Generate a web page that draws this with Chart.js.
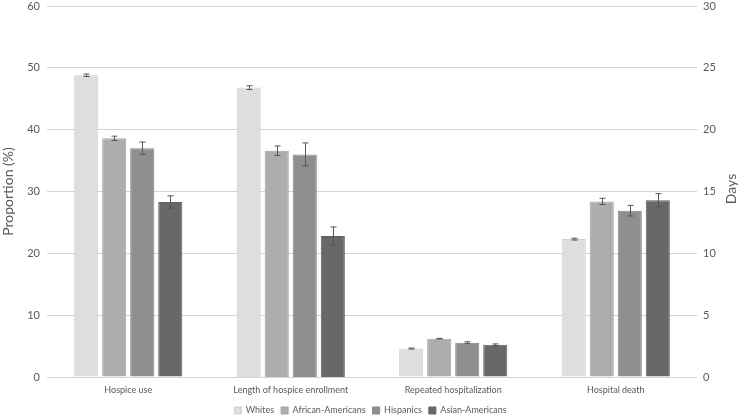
<!DOCTYPE html>
<html>
<head>
<meta charset="utf-8">
<script src="https://cdn.jsdelivr.net/npm/chart.js@4.4.1/dist/chart.umd.min.js"></script>
<style>
  html, body { margin: 0; padding: 0; background: #fff; }
  #wrap { width: 741px; height: 416px; position: relative; }
</style>
</head>
<body>
<div id="wrap"><canvas id="chart"></canvas></div>
<script>
const CATEGORIES = ['Hospice use', 'Length of hospice enrollment', 'Repeated hospitalization', 'Hospital death'];
// index 1 (length of enrollment) is in days, the rest are percentages
const DAYS_INDEX = 1;

const SERIES = [
  { label: 'Whites',            color: '#dedede', border: '#cfcfcf' },
  { label: 'African-Americans', color: '#adadad', border: '#a3a3a3' },
  { label: 'Hispanics',         color: '#8f8f8f', border: '#878787' },
  { label: 'Asian-Americans',   color: '#686868', border: '#606060' },
];

const whites    = [48.8, 23.4, 4.6, 22.3];
const africanAm = [38.6, 18.3, 6.2, 28.4];
const hispanics = [37.0, 18.0, 5.55, 26.9];
const asianAm   = [28.3, 11.4, 5.2, 28.6];

const whitesErr    = [0.2, 0.15, 0.08, 0.15];
const africanAmErr = [0.35, 0.38, 0.05, 0.5];
const hispanicsErr = [1.0, 0.93, 0.15, 0.86];
const asianAmErr   = [1.0, 0.73, 0.15, 1.05];

const pctTicks  = [0, 10, 20, 30, 40, 50, 60];
const daysTicks = [0, 5, 10, 15, 20, 25, 30];

const VALUES = [whites, africanAm, hispanics, asianAm];
const ERRORS = [whitesErr, africanAmErr, hispanicsErr, asianAmErr];

const FONT = 'Lato, "Open Sans", sans-serif';
const TEXT = '#595959';

function pick(arr, days) {
  return arr.map((v, i) => (i === DAYS_INDEX) === days ? v : null);
}

const datasets = [];
[false, true].forEach(days => {
  SERIES.forEach((s, k) => {
    datasets.push({
      label: s.label,
      data: pick(VALUES[k], days),
      errors: pick(ERRORS[k], days),
      yAxisID: days ? 'y2' : 'y',
      backgroundColor: s.color,
      borderColor: s.border,
      borderWidth: 1,
      categoryPercentage: 0.69,
      barPercentage: 0.86,
      skipNull: true,
    });
  });
});

const errorBars = {
  id: 'errorBars',
  afterDatasetsDraw(chart) {
    const ctx = chart.ctx;
    ctx.save();
    ctx.strokeStyle = '#555';
    ctx.lineWidth = 1;
    chart.data.datasets.forEach((ds, di) => {
      const meta = chart.getDatasetMeta(di);
      if (meta.hidden) return;
      const scale = chart.scales[ds.yAxisID];
      meta.data.forEach((bar, i) => {
        const v = ds.data[i], e = ds.errors[i];
        if (v == null || e == null) return;
        const x = Math.round(bar.x) + 0.5;
        const yt = scale.getPixelForValue(v + e);
        const yb = scale.getPixelForValue(v - e);
        ctx.beginPath();
        ctx.moveTo(x, yt); ctx.lineTo(x, yb);
        ctx.moveTo(x - 3, yt); ctx.lineTo(x + 3, yt);
        ctx.moveTo(x - 3, yb); ctx.lineTo(x + 3, yb);
        ctx.stroke();
      });
    });
    ctx.restore();
  }
};

const daysTitle = {
  id: 'daysTitle',
  afterDraw(chart) {
    const ctx = chart.ctx;
    ctx.save();
    ctx.fillStyle = TEXT;
    ctx.font = '14px ' + FONT;
    ctx.textAlign = 'center';
    ctx.textBaseline = 'middle';
    ctx.translate(731, 189);
    ctx.rotate(-Math.PI / 2);
    ctx.fillText('Days', 0, 0);
    ctx.restore();
  }
};

// keep the legend strip short so the plot reaches down like the original
const legendHeight = {
  id: 'legendHeight',
  afterInit(chart) {
    const lg = chart.legend;
    if (!lg) return;
    const fit = lg.fit.bind(lg);
    lg.fit = function () { fit(); this.height = 17; };
  }
};

function fitVertical(width) {
  return s => { s.width = width; s.paddingTop = 6; s.paddingBottom = 0; };
}

new Chart(document.getElementById('chart').getContext('2d'), {
  type: 'bar',
  data: { labels: CATEGORIES, datasets },
  options: {
    responsive: true,
    maintainAspectRatio: false,
    animation: false,
    layout: { padding: 0 },
    plugins: {
      legend: {
        position: 'bottom',
        labels: {
          filter: item => item.datasetIndex < SERIES.length,
          boxWidth: 7, boxHeight: 7,
          padding: 7,
          color: TEXT,
          font: { family: FONT, size: 9 },
        }
      },
      tooltip: { enabled: false },
    },
    scales: {
      x: {
        grid: { display: false, drawTicks: false },
        border: { display: false },
        ticks: { color: TEXT, font: { family: FONT, size: 9 }, padding: 8, maxRotation: 0 },
        afterFit: s => { s.height = 22; },
      },
      y: {
        position: 'left',
        min: 0, max: 60,
        afterBuildTicks: s => { s.ticks = pctTicks.map(v => ({ value: v })); },
        title: { display: true, text: 'Proportion (%)', color: TEXT, font: { family: FONT, size: 14 }, padding: 0 },
        ticks: { color: TEXT, font: { family: FONT, size: 11 }, padding: 7 },
        grid: { color: '#d4d4d4', drawTicks: false },
        border: { display: false },
        afterFit: fitVertical(47),
      },
      y2: {
        position: 'right',
        min: 0, max: 30,
        afterBuildTicks: s => { s.ticks = daysTicks.map(v => ({ value: v })); },
        ticks: { color: TEXT, font: { family: FONT, size: 11 }, padding: 6 },
        grid: { display: false, drawTicks: false },
        border: { display: false },
        afterFit: fitVertical(44),
      },
    },
  },
  plugins: [errorBars, daysTitle, legendHeight],
});
</script>
</body>
</html>
